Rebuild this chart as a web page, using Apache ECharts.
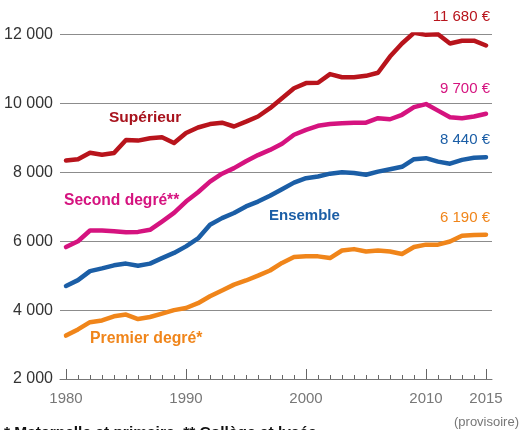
<!DOCTYPE html>
<html>
<head>
<meta charset="utf-8">
<script src="https://cdn.jsdelivr.net/npm/echarts@6/dist/echarts.min.js"></script>
<style>
  html, body { margin: 0; padding: 0; background: #fff; }
  #chart { width: 520px; height: 430px; }
</style>
</head>
<body>
<div id="chart"></div>
<script>
// années 1980 -> 2015
const years = []
for (let y = 1980; y <= 2015; y++) years.push(String(y))
const majorYears = ['1980', '1990', '2000', '2010', '2015']

// dépense moyenne par élève (euros)
const superieur = [8340, 8380, 8570, 8510, 8560, 8940, 8920, 8990, 9020, 8850, 9140, 9300, 9400, 9440, 9330, 9470, 9620, 9860, 10150, 10440, 10590, 10600, 10850, 10760, 10760, 10800, 10890, 11360, 11740, 12050, 11990, 12010, 11740, 11820, 11820, 11680]
const secondDegre = [5830, 6000, 6310, 6310, 6290, 6260, 6270, 6330, 6570, 6820, 7150, 7420, 7730, 7960, 8120, 8320, 8500, 8650, 8830, 9090, 9230, 9350, 9400, 9425, 9440, 9440, 9570, 9540, 9670, 9890, 9980, 9790, 9600, 9570, 9620, 9700]
const ensemble = [4700, 4870, 5130, 5210, 5300, 5350, 5290, 5350, 5510, 5660, 5850, 6080, 6480, 6670, 6820, 7010, 7150, 7320, 7510, 7700, 7830, 7880, 7960, 8000, 7980, 7930, 8020, 8090, 8160, 8380, 8410, 8310, 8250, 8360, 8420, 8440]
const premierDegre = [3260, 3440, 3650, 3700, 3820, 3870, 3740, 3800, 3900, 4000, 4060, 4200, 4400, 4570, 4740, 4860, 5000, 5150, 5370, 5540, 5560, 5560, 5510, 5730, 5770, 5700, 5730, 5700, 5630, 5830, 5900, 5900, 5990, 6160, 6180, 6190]

const RED = '#b8141c'
const PINK = '#d5137f'
const BLUE = '#1b5ea6'
const ORANGE = '#f0851a'
const FONT = '"Liberation Sans", Arial, sans-serif'

const fmt = (v) => String(v).replace(/\B(?=(\d{3})+(?!\d))/g, ' ')
const last = (arr) => fmt(arr[arr.length - 1]) + ' €'

const chart = echarts.init(document.getElementById('chart'))

const lineSeries = (name, data, color) => ({
  name,
  type: 'line',
  data,
  xAxisIndex: 0,
  symbol: 'none',
  silent: true,
  lineStyle: { color, width: 4.5, join: 'round', cap: 'round' }
})

const txt = (text, x, y, color, opts = {}) => ({
  type: 'text',
  left: opts.right == null ? x : undefined,
  right: opts.right,
  top: y,
  style: {
    text,
    fill: color,
    font: (opts.bold === false ? '' : 'bold ') + (opts.size || 16) + 'px ' + FONT
  }
})

chart.setOption({
  animation: false,
  grid: { left: 60, right: 28, top: 34.5, height: 344.5 },
  xAxis: [
    {
      type: 'category',
      data: years,
      boundaryGap: true,
      axisLine: { show: true, lineStyle: { color: '#777', width: 1 } },
      axisTick: {
        show: true,
        inside: true,
        alignWithLabel: true,
        interval: 0,
        length: 4,
        lineStyle: { color: '#666', width: 1 }
      },
      axisLabel: {
        interval: (i, v) => majorYears.includes(v),
        hideOverlap: false,
        showMaxLabel: true,
        color: '#777',
        fontFamily: FONT,
        fontSize: 15,
        margin: 12
      },
      splitLine: { show: false }
    },
    {
      type: 'category',
      data: years,
      boundaryGap: true,
      position: 'bottom',
      axisLine: { show: false },
      axisTick: {
        show: true,
        inside: true,
        alignWithLabel: true,
        interval: (i, v) => majorYears.includes(v),
        length: 10,
        lineStyle: { color: '#666', width: 1 }
      },
      axisLabel: { show: false },
      splitLine: { show: false }
    }
  ],
  yAxis: {
    type: 'value',
    min: 2000,
    max: 12000,
    interval: 2000,
    axisLine: { show: false },
    axisTick: { show: false },
    axisLabel: {
      color: '#333',
      fontFamily: FONT,
      fontSize: 16,
      margin: 7,
      formatter: fmt
    },
    splitLine: { lineStyle: { color: '#8c8c8c', width: 1 } }
  },
  series: [
    lineSeries('Supérieur', superieur, RED),
    lineSeries('Second degré', secondDegre, PINK),
    lineSeries('Ensemble', ensemble, BLUE),
    lineSeries('Premier degré', premierDegre, ORANGE)
  ],
  graphic: [
    txt('Supérieur', 109, 110, '#a8131d', { size: 15.5 }),
    txt('Second degré**', 64, 193, PINK, { size: 15.6 }),
    txt('Ensemble', 269, 208, BLUE, { size: 15 }),
    txt('Premier degré*', 90, 331, ORANGE, { size: 15.8 }),
    txt(last(superieur), 0, 9, RED, { right: 30, bold: false, size: 15 }),
    txt(last(secondDegre), 0, 81.5, PINK, { right: 30, bold: false, size: 15 }),
    txt(last(ensemble), 0, 132.5, BLUE, { right: 30, bold: false, size: 15 }),
    txt(last(premierDegre), 0, 210.5, ORANGE, { right: 30, bold: false, size: 15 }),
    txt('(provisoire)', 0, 416, '#777', { right: 1, bold: false, size: 13 }),
    txt('* Maternelle et primaire. ** Collège et lycée.', 4, 425, '#111', { size: 15.5 })
  ]
})
</script>
</body>
</html>
